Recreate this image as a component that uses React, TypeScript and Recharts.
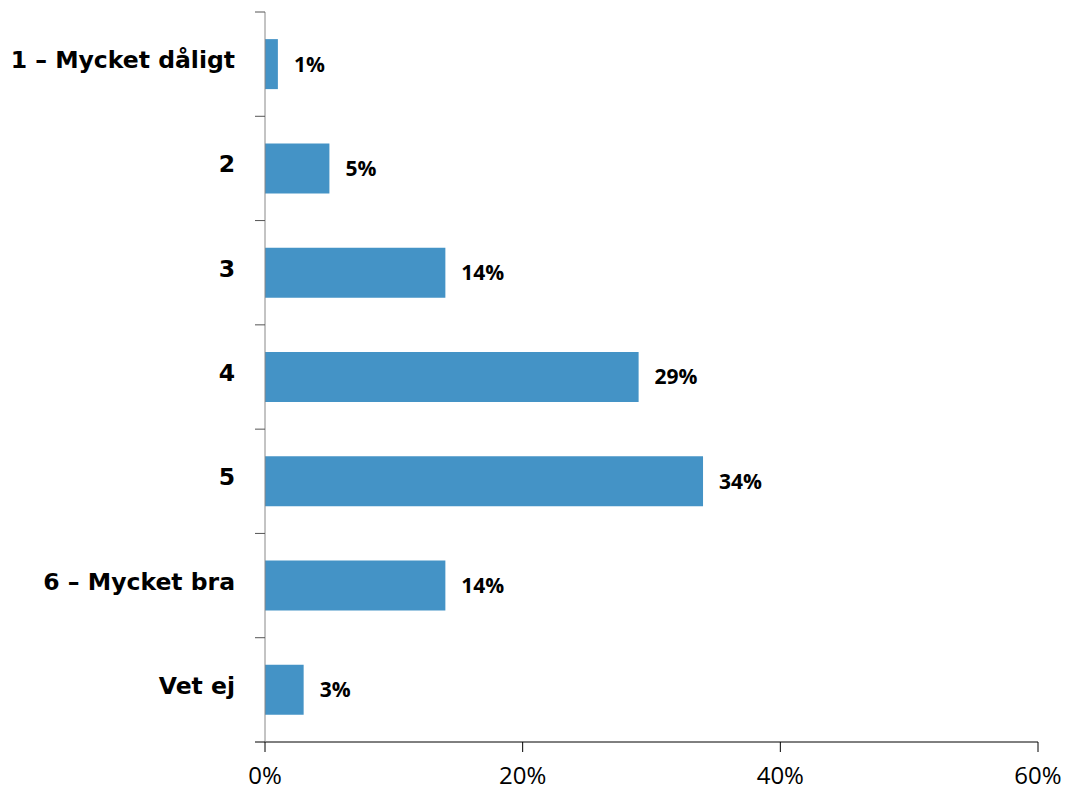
import React from 'react';
import { BarChart, Bar, XAxis, YAxis, LabelList } from 'recharts';

const categories = ['1 – Mycket dåligt', '2', '3', '4', '5', '6 – Mycket bra', 'Vet ej'];
const shares = [1, 5, 14, 29, 34, 14, 3];
const xTicks = [0, 20, 40, 60];

const data = categories.map((name, i) => ({ name, value: shares[i] }));

const LABEL_FONT = '"DejaVu Sans", Verdana, sans-serif';
const NUM_FONT = '"Open Sans", "Noto Sans", sans-serif';
const BAND = (742 - 12) / categories.length;

const CategoryTick = (props: any) => {
  const { x, y, payload, index } = props;
  const top = y - BAND / 2;
  return (
    <g>
      <line x1={x - 2} y1={top} x2={x + 8} y2={top} stroke="#555" strokeWidth={1} />
      {index === categories.length - 1 && (
        <line x1={x - 2} y1={y + BAND / 2} x2={x + 8} y2={y + BAND / 2} stroke="#000" strokeWidth={1} />
      )}
      <text x={x - 22} y={y} dy={4} textAnchor="end" fontFamily={LABEL_FONT} fontWeight={700} fontSize={23.5} fill="#000">
        {payload.value}
      </text>
    </g>
  );
};

export default function App() {
  return (
    <div style={{ position: 'absolute', left: 0, top: 0, background: '#fff' }}>
      <BarChart
        width={1068}
        height={792}
        data={data}
        layout="vertical"
        margin={{ top: 12, right: 30, bottom: 0, left: 0 }}
        barCategoryGap="26%"
      >
        <XAxis
          type="number"
          domain={[0, 60]}
          ticks={xTicks}
          tickFormatter={(v) => `${v}%`}
          height={50}
          axisLine={{ stroke: '#000' }}
          tickLine={{ stroke: '#000' }}
          tickSize={10}
          tick={{ fontFamily: NUM_FONT, fontSize: 24, fill: '#000', dy: 13 }}
          interval={0}
        />
        <YAxis
          type="category"
          dataKey="name"
          width={265}
          axisLine={{ stroke: '#888' }}
          tickLine={false}
          tick={<CategoryTick />}
          interval={0}
        />
        <Bar dataKey="value" fill="#4493C6" isAnimationActive={false}>
          <LabelList
            dataKey="value"
            position="right"
            offset={16}
            formatter={(v: any) => `${v}%`}
            style={{ fontFamily: NUM_FONT, fontWeight: 700, fontSize: 21, fill: '#000' }}
          />
        </Bar>
      </BarChart>
    </div>
  );
}
